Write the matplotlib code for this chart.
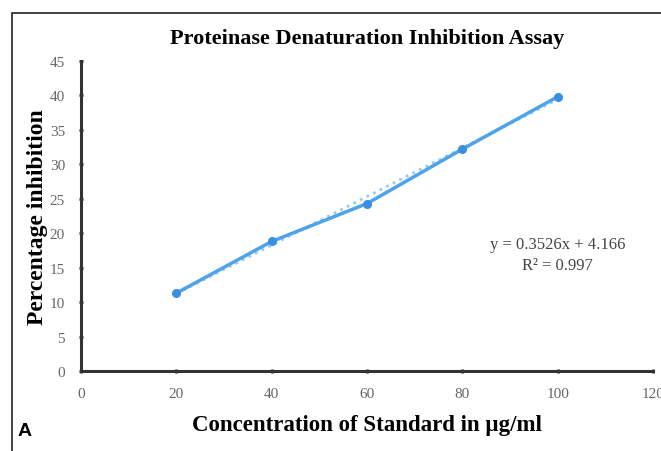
import numpy as np
import matplotlib.pyplot as plt
from matplotlib.patches import Rectangle

# Donnees
concentration = np.array([20, 40, 60, 80, 100])
inhibition = np.array([11.3, 18.8, 24.3, 32.2, 39.8])
pente = 0.3526
ordonnee = 4.166

fig = plt.figure(figsize=(6.61, 4.52), dpi=100)
ax = fig.add_axes([0.1225, 0.177, 0.8655, 0.686])

# Cadre autour de la figure
fig.patches.append(Rectangle((0.018, -0.01), 1.0, 0.98, transform=fig.transFigure,
                             fill=False, edgecolor="#222222", linewidth=1.2))

# Droite de tendance (pointillee)
xt = np.array([20, 100])
ax.plot(xt, pente * xt + ordonnee, ':', color="#9ccaf2", linewidth=2)

# Courbe
ax.plot(concentration, inhibition, '-o', color="#4fa3ea", linewidth=2.5,
        markersize=5.5, markerfacecolor="#3a8fe0", markeredgecolor="#3a8fe0")

ax.set_xlim(0, 120)
ax.set_ylim(0, 45)
ax.set_xticks(np.arange(0, 121, 20))
ax.set_yticks(np.arange(0, 46, 5))
for s in ["top", "right"]:
    ax.spines[s].set_visible(False)
for s in ["left", "bottom"]:
    ax.spines[s].set_linewidth(2.2)
    ax.spines[s].set_color("#333333")
ax.tick_params(length=3, width=2, color="#333333", labelsize=11,
               labelcolor="#666666", direction="inout", pad=10)
for lab in ax.get_xticklabels() + ax.get_yticklabels():
    lab.set_family("Liberation Serif")

ax.set_title("Proteinase Denaturation Inhibition Assay", fontsize=16,
             fontweight="bold", family="Liberation Serif", pad=13)
ax.set_xlabel("Concentration of Standard in \u00b5g/ml", fontsize=16.5,
              fontweight="bold", family="Liberation Serif", labelpad=10)
ax.set_ylabel("Percentage inhibition", fontsize=17, fontweight="bold",
              family="Liberation Serif", labelpad=1)

ax.text(100, 16.9, "y = 0.3526x + 4.166\nR\u00b2 = 0.997", ha="center",
        va="center", fontsize=12, color="#444444", family="Liberation Serif",
        linespacing=1.45)

fig.text(0.027, 0.035, "A", fontsize=14, fontweight="bold",
         family="Liberation Sans")

plt.savefig("out.png", dpi=100)
